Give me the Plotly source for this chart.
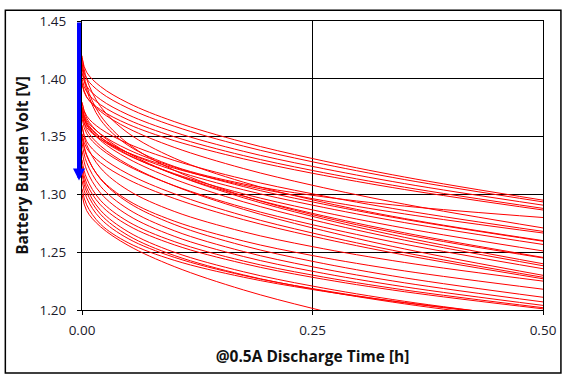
import plotly.graph_objects as go

# Discharge time points [h]
time_h = [0, 0.005, 0.02, 0.05, 0.1, 0.175, 0.25, 0.35, 0.5]

# Battery burden voltage curves [V]
voltage_curves = [
    [1.418, 1.4057, 1.3934, 1.3791, 1.3630, 1.3452, 1.3310, 1.3150, 1.2950],
    [1.412, 1.4002, 1.3883, 1.3746, 1.3590, 1.3418, 1.3282, 1.3128, 1.2935],
    [1.405, 1.3936, 1.3821, 1.3689, 1.3539, 1.3373, 1.3242, 1.3093, 1.2907],
    [1.400, 1.3888, 1.3776, 1.3646, 1.3499, 1.3336, 1.3207, 1.3062, 1.2879],
    [1.395, 1.3841, 1.3733, 1.3607, 1.3465, 1.3308, 1.3183, 1.3042, 1.2865],
    [1.397, 1.3844, 1.3718, 1.3572, 1.3407, 1.3224, 1.3079, 1.2915, 1.2710],
    [1.379, 1.3679, 1.3568, 1.3439, 1.3294, 1.3133, 1.3005, 1.2861, 1.2680],
    [1.368, 1.3579, 1.3477, 1.3360, 1.3227, 1.3080, 1.2963, 1.2831, 1.2666],
    [1.3755, 1.3639, 1.3523, 1.3388, 1.3236, 1.3068, 1.2935, 1.2784, 1.2595],
    [1.3727, 1.3611, 1.3495, 1.3360, 1.3208, 1.3040, 1.2907, 1.2756, 1.2567],
    [1.3721, 1.3600, 1.3479, 1.3339, 1.3180, 1.3005, 1.2866, 1.2708, 1.2511],
    [1.3755, 1.3625, 1.3495, 1.3344, 1.3174, 1.2985, 1.2836, 1.2667, 1.2455],
    [1.380, 1.366, 1.352, 1.3358, 1.3174, 1.2971, 1.2810, 1.2628, 1.2400],
    [1.3738, 1.3603, 1.3467, 1.3310, 1.3132, 1.2936, 1.2780, 1.2604, 1.2383],
    [1.3657, 1.3527, 1.3397, 1.3246, 1.3076, 1.2887, 1.2738, 1.2569, 1.2357],
    [1.370, 1.356, 1.342, 1.3258, 1.3074, 1.2871, 1.2710, 1.2528, 1.2300],
    [1.359, 1.3459, 1.3329, 1.3177, 1.3006, 1.2816, 1.2666, 1.2496, 1.2283],
    [1.3526, 1.3400, 1.3275, 1.3129, 1.2965, 1.2782, 1.2638, 1.2475, 1.2270],
    [1.360, 1.3431, 1.3229, 1.3036, 1.2853, 1.2677, 1.2548, 1.2411, 1.2250],
    [1.350, 1.3335, 1.3138, 1.2948, 1.2769, 1.2597, 1.2471, 1.2338, 1.2180],
    [1.352, 1.3344, 1.3133, 1.2931, 1.2740, 1.2556, 1.2421, 1.2278, 1.2110],
    [1.345, 1.3277, 1.3071, 1.2873, 1.2686, 1.2506, 1.2374, 1.2235, 1.2070],
    [1.338, 1.3212, 1.3012, 1.2820, 1.2638, 1.2463, 1.2335, 1.2200, 1.2040],
    [1.330, 1.3140, 1.2949, 1.2765, 1.2592, 1.2424, 1.2302, 1.2173, 1.2020],
    [1.325, 1.3095, 1.2910, 1.2732, 1.2564, 1.2402, 1.2283, 1.2158, 1.2010],
    [1.322, 1.3057, 1.2863, 1.2677, 1.2500, 1.2331, 1.2207, 1.2075, 1.1920],
    [1.318, 1.3020, 1.2829, 1.2645, 1.2472, 1.2304, 1.2182, 1.2053, 1.1900],
    [1.312, 1.2970, 1.2791, 1.2618, 1.2456, 1.2299, 1.2185, 1.2063, 1.1920],
    [1.305, 1.2910, 1.2743, 1.2582, 1.2430, 1.2284, 1.2177, 1.2064, 1.1930],
    [1.300, 1.2860, 1.2721, 1.2559, 1.2376, 1.2174, 1.2014, 1.1832, 1.1605],
    [1.420, 1.4000, 1.3761, 1.3531, 1.3314, 1.3106, 1.2953, 1.2791, 1.2600],
    [1.415, 1.3937, 1.3683, 1.3439, 1.3209, 1.2987, 1.2825, 1.2653, 1.2450],
    [1.410, 1.3905, 1.3646, 1.3424, 1.3242, 1.3091, 1.2992, 1.2899, 1.2800],
]

# Arrow readings (voltage range indicated at t = 0)
arrow_top_v = 1.45
arrow_tip_v = 1.312

x_ticks = [0, 0.25, 0.5]
x_tick_labels = ["0.00", "0.25", "0.50"]
y_ticks = [1.20, 1.25, 1.30, 1.35, 1.40, 1.45]
y_tick_labels = ["1.20", "1.25", "1.30", "1.35", "1.40", "1.45"]

x_title = "@0.5A Discharge Time [h]"
y_title = "Battery Burden Volt [V]"

FONT = "Open Sans"

fig = go.Figure()
for v in voltage_curves:
    fig.add_trace(go.Scatter(
        x=time_h, y=v, mode="lines",
        line=dict(color="#FF0000", width=1, shape="spline", smoothing=1),
        showlegend=False, hoverinfo="skip",
    ))

fig.add_annotation(
    x=0, y=arrow_tip_v, ax=0, ay=arrow_top_v,
    xref="x", yref="y", axref="x", ayref="y",
    text="", showarrow=True,
    arrowhead=2, arrowsize=0.6, arrowwidth=4, arrowcolor="#0000FF",
    standoff=0, startstandoff=0, xshift=-3,
)

# Outer frame around the whole chart
fig.add_shape(
    type="rect", xref="paper", yref="paper",
    x0=-0.1663, x1=1.0389, y0=-0.2177, y1=1.0374,
    line=dict(color="black", width=1.5), fillcolor="rgba(0,0,0,0)",
    layer="above",
)

axis_common = dict(
    showgrid=True, gridcolor="black", gridwidth=1,
    showline=True, linecolor="black", linewidth=1, mirror=True,
    zeroline=False, ticks="outside", ticklen=4, tickcolor="black",
    tickfont=dict(family=FONT, size=13.5, color="#1a1a2a"),
)

fig.update_xaxes(
    range=[0, 0.5], tickvals=x_ticks, ticktext=x_tick_labels,
    ticklabelstandoff=4,
    title=dict(text=x_title, standoff=12,
               font=dict(family=FONT, size=15.5, color="#111111", weight="bold")),
    **axis_common,
)
fig.update_yaxes(
    range=[1.20, 1.45], tickvals=y_ticks, ticktext=y_tick_labels,
    ticklabelstandoff=8,
    title=dict(text=y_title, standoff=7,
               font=dict(family=FONT, size=15.5, color="#111111", weight="bold")),
    **axis_common,
)

fig.update_layout(
    width=569, height=380, autosize=False,
    margin=dict(l=82, r=24, t=16, b=70),
    paper_bgcolor="white", plot_bgcolor="white",
    font=dict(family=FONT),
)

fig.write_html(
    "out.html",
    config={"displayModeBar": False},
    post_script="document.body.style.margin='0';document.body.style.overflow='hidden';",
)
